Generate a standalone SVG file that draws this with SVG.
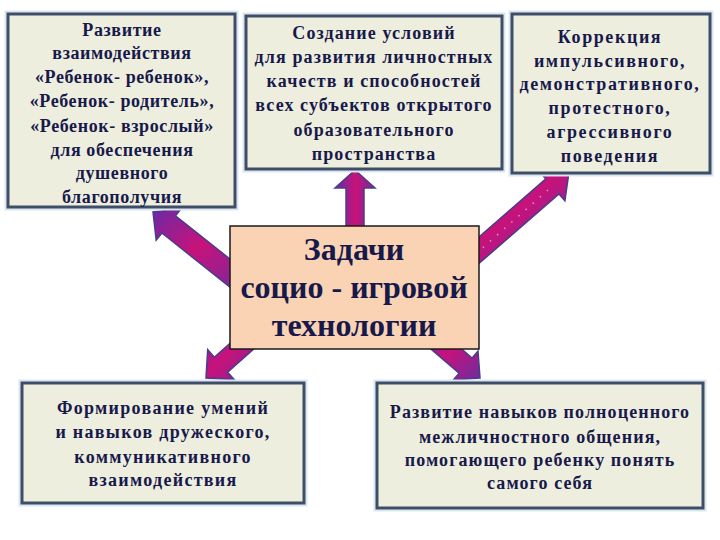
<svg xmlns="http://www.w3.org/2000/svg" width="720" height="540" viewBox="0 0 720 540">
<defs>
<linearGradient id="ag" x1="0" y1="0" x2="1" y2="1">
<stop offset="0" stop-color="#6A2AA6"/>
<stop offset="0.45" stop-color="#C8127A"/>
<stop offset="1" stop-color="#6E2CA0"/>
</linearGradient>
<linearGradient id="agh" x1="0" y1="0" x2="1" y2="0">
<stop offset="0" stop-color="#5E2FA8"/>
<stop offset="0.5" stop-color="#C8127A"/>
<stop offset="1" stop-color="#7A2898"/>
</linearGradient>
<style>
.box{fill:#EEEEDF;stroke:#3E4E68;stroke-width:3}
.glow{fill:none;stroke:#DCE6EE;stroke-width:7}
.ctr{fill:#FAD3B4;stroke:#1A1A1A;stroke-width:1.5}
.arr{fill:url(#ag);stroke:#4A3C8C;stroke-width:1.5;stroke-linejoin:miter}
.t{font-family:"Liberation Serif","Times New Roman",serif;font-weight:bold;font-size:18px;fill:#17194A;text-anchor:middle}
.c{font-family:"Liberation Serif","Times New Roman",serif;font-weight:bold;font-size:32px;fill:#17194A;text-anchor:middle}
</style>
</defs>
<rect width="720" height="540" fill="#FFFFFF"/>
<g id="connectors">
<polygon class="arr" points="153,212 181.1,208.7 175.5,215.8 251.8,276.4 238.2,293.6 161.9,233 156.2,240.1"/>
<polygon class="arr" style="fill:url(#agh)" points="355,170 375,188 364,188 364,240 346,240 346,188 335,188"/>
<polygon class="arr" points="569,172 564.9,200.7 559,194 476.6,265.5 463.4,250.5 545.8,178.9 539.9,172.1"/>
<line x1="548" y1="190" x2="478" y2="252" stroke="#F48AC8" stroke-width="1.5" stroke-dasharray="1.5 8"/>
<polygon class="arr" points="206,378 207.7,349.7 214.3,357.2 253.4,322.5 266.6,337.5 227.6,372.2 234.3,379.7"/>
<polygon class="arr" points="480,378 453.2,380 459.1,373.2 423.5,342.6 436.5,327.4 472.1,358 478,351.2"/>
</g>
<g id="n1" letter-spacing="0.6">
<rect class="glow" x="8" y="14" width="227" height="193"/>
<rect class="box" x="8" y="14" width="227" height="193"/>
<text class="t" x="122" y="36">Развитие</text>
<text class="t" x="122" y="59">взаимодействия</text>
<text class="t" x="122" y="83">«Ребенок- ребенок»,</text>
<text class="t" x="122" y="107">«Ребенок- родитель»,</text>
<text class="t" x="122" y="132">«Ребенок- взрослый»</text>
<text class="t" x="122" y="156">для обеспечения</text>
<text class="t" x="122" y="179">душевного</text>
<text class="t" x="122" y="203">благополучия</text>
</g>
<g id="n2" letter-spacing="1.1">
<rect class="glow" x="246" y="16" width="256" height="153"/>
<rect class="box" x="246" y="16" width="256" height="153"/>
<text class="t" x="374" y="39">Создание условий</text>
<text class="t" x="374" y="63">для развития личностных</text>
<text class="t" x="374" y="87">качеств и способностей</text>
<text class="t" x="374" y="111">всех субъектов открытого</text>
<text class="t" x="374" y="136">образовательного</text>
<text class="t" x="374" y="160">пространства</text>
</g>
<g id="n3" letter-spacing="1.6">
<rect class="glow" x="512" y="14" width="198" height="159"/>
<rect class="box" x="512" y="14" width="198" height="159"/>
<text class="t" x="610" y="43">Коррекция</text>
<text class="t" x="610" y="67">импульсивного,</text>
<text class="t" x="610" y="90">демонстративного,</text>
<text class="t" x="610" y="114">протестного,</text>
<text class="t" x="610" y="138">агрессивного</text>
<text class="t" x="610" y="162">поведения</text>
</g>
<g id="center">
<rect class="ctr" x="230" y="226" width="249" height="123"/>
<text class="c" x="354" y="260">Задачи</text>
<text class="c" x="354" y="298">социо - игровой</text>
<text class="c" x="354" y="336">технологии</text>
</g>
<g id="n4" letter-spacing="1.3">
<rect class="glow" x="22" y="383" width="282" height="120"/>
<rect class="box" x="22" y="383" width="282" height="120"/>
<text class="t" x="163" y="414">Формирование умений</text>
<text class="t" x="163" y="438">и навыков дружеского,</text>
<text class="t" x="163" y="463">коммуникативного</text>
<text class="t" x="163" y="486">взаимодействия</text>
</g>
<g id="n5" letter-spacing="1.1">
<rect class="glow" x="377" y="383" width="326" height="125"/>
<rect class="box" x="377" y="383" width="326" height="125"/>
<text class="t" x="540" y="418">Развитие навыков полноценного</text>
<text class="t" x="540" y="443">межличностного общения,</text>
<text class="t" x="540" y="466">помогающего ребенку понять</text>
<text class="t" x="540" y="489">самого себя</text>
</g>
</svg>
